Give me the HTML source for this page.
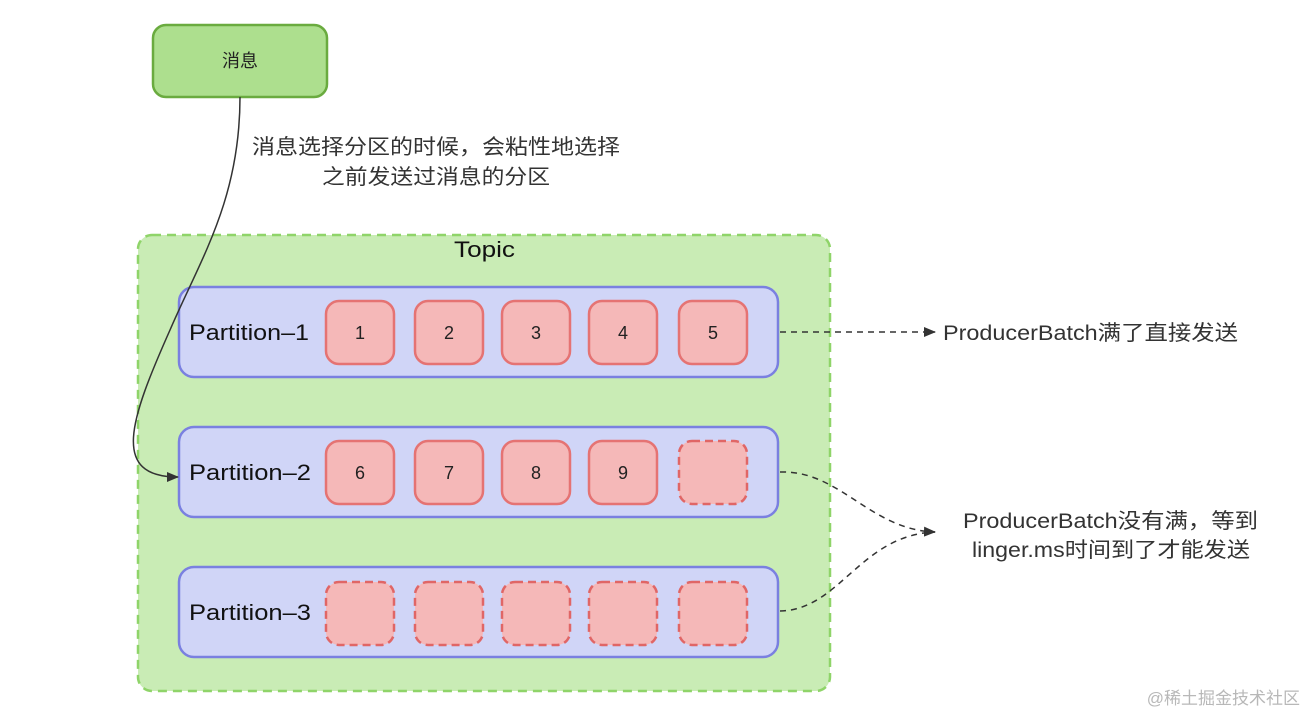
<!DOCTYPE html>
<html><head><meta charset="utf-8"><style>
html,body{margin:0;padding:0;background:#fff;width:1308px;height:715px;overflow:hidden}
text{font-family:"Liberation Sans","Noto Sans CJK SC",sans-serif}
</style></head><body>
<svg width="1308" height="715" viewBox="0 0 1308 715" xmlns="http://www.w3.org/2000/svg">
<defs>
<marker id="ah" markerWidth="12" markerHeight="10" refX="11" refY="5" orient="auto" markerUnits="userSpaceOnUse">
<path d="M0,0 L12,5 L0,10 z" fill="#333"/></marker>
</defs>
<rect x="153" y="25" width="174" height="72" rx="13" fill="#addf8e" stroke="#6aab3f" stroke-width="2.5"/>
<text x="240" y="67" font-size="18" text-anchor="middle" fill="#222">消息</text>
<text x="252" y="154" font-size="21" fill="#333" textLength="368" lengthAdjust="spacingAndGlyphs">消息选择分区的时候，会粘性地选择</text>
<text x="322" y="184" font-size="21" fill="#333" textLength="228" lengthAdjust="spacingAndGlyphs">之前发送过消息的分区</text>
<rect x="138" y="235" width="692" height="456" rx="14" fill="#c9ecb5" stroke="#8fd469" stroke-width="2.5" stroke-dasharray="9,6"/>
<text x="454" y="257" font-size="22" fill="#111" textLength="61" lengthAdjust="spacingAndGlyphs">Topic</text>
<g fill="#d0d5f7" stroke="#7a80e0" stroke-width="2.5">
<rect x="179" y="287" width="599" height="90" rx="15"/>
<rect x="179" y="427" width="599" height="90" rx="15"/>
<rect x="179" y="567" width="599" height="90" rx="15"/>
</g>
<g font-size="22" fill="#111">
<text x="189" y="340" textLength="120" lengthAdjust="spacingAndGlyphs">Partition–1</text>
<text x="189" y="480" textLength="122" lengthAdjust="spacingAndGlyphs">Partition–2</text>
<text x="189" y="620" textLength="122" lengthAdjust="spacingAndGlyphs">Partition–3</text>
</g>
<g fill="#f5b8b8" stroke="#e57373" stroke-width="2.5">
<rect x="326" y="301" width="68" height="63" rx="13"/>
<rect x="415" y="301" width="68" height="63" rx="13"/>
<rect x="502" y="301" width="68" height="63" rx="13"/>
<rect x="589" y="301" width="68" height="63" rx="13"/>
<rect x="679" y="301" width="68" height="63" rx="13"/>
<rect x="326" y="441" width="68" height="63" rx="13"/>
<rect x="415" y="441" width="68" height="63" rx="13"/>
<rect x="502" y="441" width="68" height="63" rx="13"/>
<rect x="589" y="441" width="68" height="63" rx="13"/>
</g>
<g fill="#f5b8b8" stroke="#e06666" stroke-width="2.5" stroke-dasharray="8,5">
<rect x="679" y="441" width="68" height="63" rx="13"/>
<rect x="326" y="582" width="68" height="63" rx="13"/>
<rect x="415" y="582" width="68" height="63" rx="13"/>
<rect x="502" y="582" width="68" height="63" rx="13"/>
<rect x="589" y="582" width="68" height="63" rx="13"/>
<rect x="679" y="582" width="68" height="63" rx="13"/>
</g>
<g font-size="18" fill="#222" text-anchor="middle">
<text x="360" y="339">1</text><text x="449" y="339">2</text><text x="536" y="339">3</text><text x="623" y="339">4</text><text x="713" y="339">5</text>
<text x="360" y="479">6</text><text x="449" y="479">7</text><text x="536" y="479">8</text><text x="623" y="479">9</text>
</g>
<path d="M240,97 C240,200 200,260 170,330 C130,420 110,477 178,477" fill="none" stroke="#333" stroke-width="1.5" marker-end="url(#ah)"/>
<g fill="none" stroke="#333" stroke-width="1.5" stroke-dasharray="6,5">
<path d="M780,332 L935,332" marker-end="url(#ah)"/>
<path d="M780,472 C840,470 870,530 935,532" marker-end="url(#ah)"/>
<path d="M780,611 C840,610 860,535 935,532"/>
</g>
<text x="943" y="340" font-size="21" fill="#333" textLength="295" lengthAdjust="spacingAndGlyphs">ProducerBatch满了直接发送</text>
<text x="963" y="528" font-size="21" fill="#333" textLength="295" lengthAdjust="spacingAndGlyphs">ProducerBatch没有满，等到</text>
<text x="972" y="557" font-size="21" fill="#333" textLength="278" lengthAdjust="spacingAndGlyphs">linger.ms时间到了才能发送</text>
<text x="1300" y="704" font-size="17" fill="#b8b8b8" text-anchor="end">@稀土掘金技术社区</text>
</svg>
</body></html>
